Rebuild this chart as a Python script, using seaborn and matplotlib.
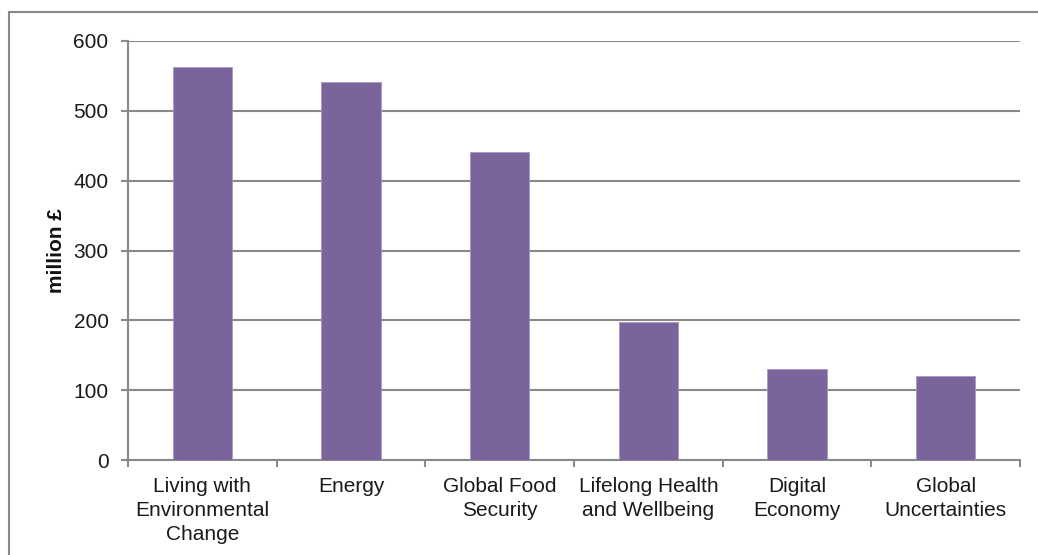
import matplotlib
matplotlib.use("Agg")
import matplotlib.pyplot as plt
from matplotlib.patches import Rectangle
from matplotlib.ticker import FixedLocator, NullFormatter
import seaborn as sns
import pandas as pd

# Funding by research theme
themes = [
    "Living with\nEnvironmental\nChange",
    "Energy",
    "Global Food\nSecurity",
    "Lifelong Health\nand Wellbeing",
    "Digital\nEconomy",
    "Global\nUncertainties",
]
funding = [563, 541, 441, 197, 130, 120]
y_ticks = [0, 100, 200, 300, 400, 500, 600]

df = pd.DataFrame({"theme": themes, "funding": funding})

sns.set_theme(style="white")
plt.rcParams["font.family"] = ["Liberation Sans", "DejaVu Sans"]

grey = "#898989"
bar_colour = "#7B639B"

fig = plt.figure(figsize=(10.38, 5.55), dpi=100)
ax = fig.add_axes([128 / 1038, 1 - 460 / 555, (1020 - 128) / 1038, (460 - 41) / 555])

ax.yaxis.grid(True, color=grey, linewidth=1.5, zorder=0)
ax.set_axisbelow(True)

sns.barplot(data=df, x="theme", y="funding", color=bar_colour, width=0.4,
            saturation=1, edgecolor="#A898C4", linewidth=0.6, ax=ax, zorder=3)

ax.set_xlim(-0.5, len(themes) - 0.5)
ax.set_ylim(0, 600)
ax.set_yticks(y_ticks)
ax.set_yticklabels([str(v) for v in y_ticks])

for side in ("top", "right"):
    ax.spines[side].set_visible(False)
for side in ("left", "bottom"):
    ax.spines[side].set_color(grey)
    ax.spines[side].set_linewidth(1.5)

# category labels at bar centres, tick marks on category boundaries
ax.tick_params(axis="x", which="major", length=0, pad=12.5, labelsize=15, labelcolor="#1a1a1a")
for lbl in ax.get_xticklabels():
    lbl.set_linespacing(1.33)
ax.xaxis.set_minor_locator(FixedLocator([i - 0.5 for i in range(len(themes) + 1)]))
ax.xaxis.set_minor_formatter(NullFormatter())
ax.tick_params(axis="x", which="minor", bottom=True, length=5, width=1.5, color=grey)
ax.tick_params(axis="y", left=True, length=5, width=1.5, color=grey, pad=9,
               labelsize=15, labelcolor="#1a1a1a")

ax.set_xlabel("")
ax.set_ylabel("million £", fontsize=15, fontweight="bold", labelpad=5.5, color="#111111")

# outer chart frame
fig.patches.append(Rectangle((9 / 1038, -0.2), 1.2, 1.2 - 12 / 555,
                             transform=fig.transFigure, fill=False,
                             edgecolor=grey, linewidth=1.5))

fig.savefig("out.png", dpi=100)
